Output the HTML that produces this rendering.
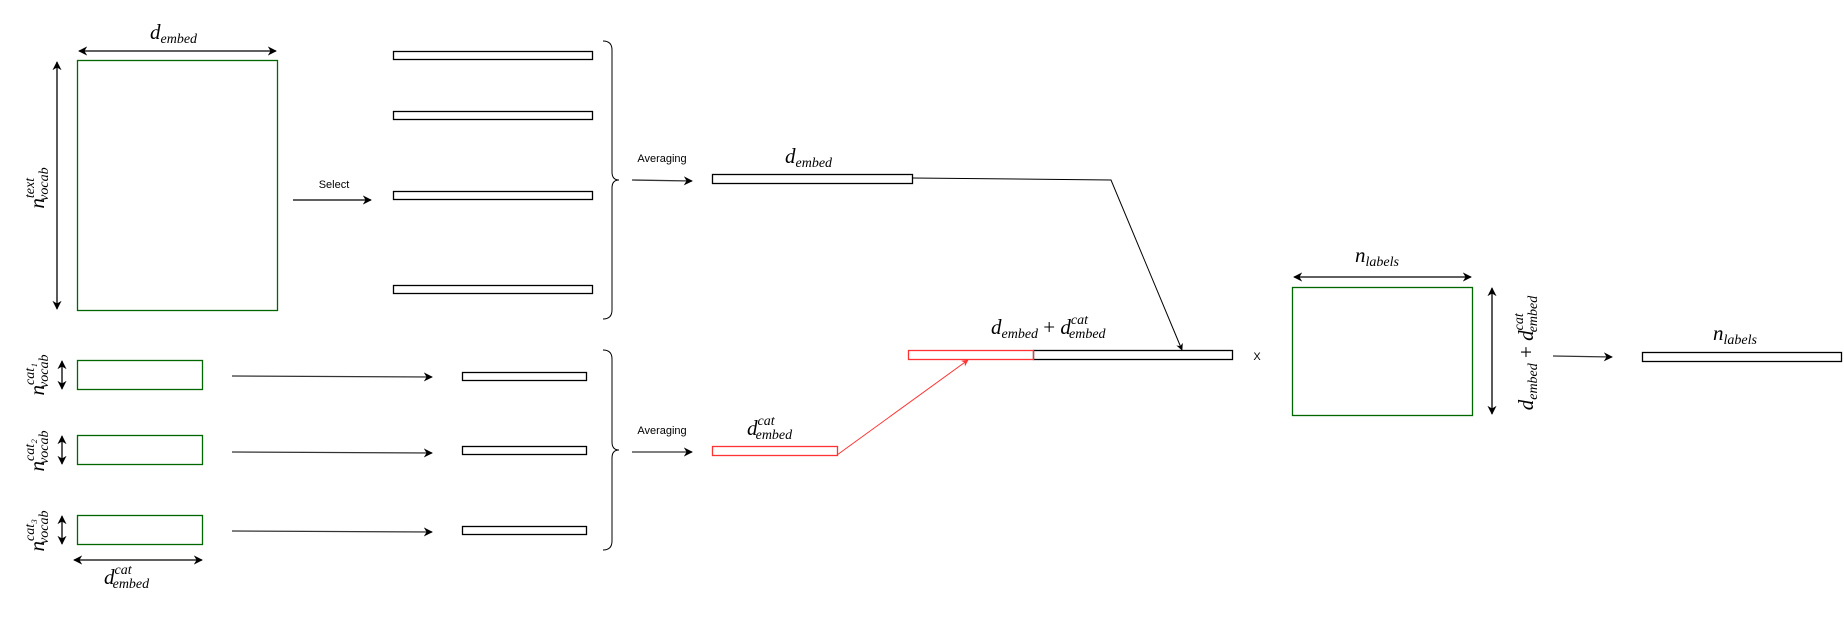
<!DOCTYPE html>
<html><head><meta charset="utf-8"><style>
html,body{margin:0;padding:0;background:#fff;}
svg{display:block;}
.m{font-family:"Liberation Serif",serif;font-style:italic;fill:#000;}
.s{font-family:"Liberation Sans",sans-serif;font-size:11px;fill:#000;}
</style></head><body>
<svg width="1844" height="641" viewBox="0 0 1844 641" xmlns="http://www.w3.org/2000/svg">
<defs>
<marker id="a" viewBox="0 0 10 10" refX="9" refY="5" markerWidth="7" markerHeight="7" orient="auto-start-reverse"><path d="M0,0 L10,5 L0,10 L3,5 z" fill="#000"/></marker>
<marker id="r" viewBox="0 0 10 10" refX="9" refY="5" markerWidth="7" markerHeight="7" orient="auto"><path d="M0,0 L10,5 L0,10 L3,5 z" fill="#f33"/></marker>
</defs>
<g fill="none" stroke-width="1.3">
<rect x="77.5" y="60.5" width="200" height="250" stroke="#060"/>
<line x1="79" y1="51" x2="276" y2="51" stroke="#000" marker-start="url(#a)" marker-end="url(#a)"/>
<line x1="57" y1="62" x2="57" y2="309" stroke="#000" marker-start="url(#a)" marker-end="url(#a)"/>
<rect x="393.5" y="51.5" width="199" height="8" stroke="#000"/>
<rect x="393.5" y="111.5" width="199" height="8" stroke="#000"/>
<rect x="393.5" y="191.5" width="199" height="8" stroke="#000"/>
<rect x="393.5" y="285.5" width="199" height="8" stroke="#000"/>
<line x1="293" y1="200" x2="371" y2="200" stroke="#000" marker-end="url(#a)"/>
<path d="M603,41 Q612,41 612,50 L612,172 Q612,180 619,180 Q612,180 612,188 L612,310 Q612,319 603,319" stroke="#000" stroke-width="1"/>
<line x1="632" y1="180" x2="692" y2="181" stroke="#333" marker-end="url(#a)"/>
<rect x="712.5" y="174.5" width="200" height="9" stroke="#000"/>
<polyline points="912,178 1111,180 1182,350" stroke="#000" stroke-width="1" marker-end="url(#a)"/>
<rect x="1033.5" y="350.5" width="199" height="9" stroke="#000"/>
<rect x="908.5" y="350.5" width="125" height="9" stroke="#f33"/>
<line x1="837" y1="455" x2="968" y2="360" stroke="#f33" stroke-width="1" marker-end="url(#r)"/>
<rect x="1292.5" y="287.5" width="180" height="128" stroke="#060"/>
<line x1="1294" y1="277" x2="1471" y2="277" stroke="#000" marker-start="url(#a)" marker-end="url(#a)"/>
<line x1="1492" y1="288" x2="1492" y2="414" stroke="#000" marker-start="url(#a)" marker-end="url(#a)"/>
<line x1="1553" y1="356" x2="1612" y2="357" stroke="#333" marker-end="url(#a)"/>
<rect x="1642.5" y="352.5" width="199" height="9" stroke="#000"/>
<rect x="77.5" y="360.5" width="125" height="29" stroke="#060"/>
<rect x="77.5" y="435.5" width="125" height="29" stroke="#060"/>
<rect x="77.5" y="515.5" width="125" height="29" stroke="#060"/>
<line x1="62" y1="361" x2="62" y2="389" stroke="#000" marker-start="url(#a)" marker-end="url(#a)"/>
<line x1="62" y1="436" x2="62" y2="464" stroke="#000" marker-start="url(#a)" marker-end="url(#a)"/>
<line x1="62" y1="516" x2="62" y2="544" stroke="#000" marker-start="url(#a)" marker-end="url(#a)"/>
<line x1="74" y1="560" x2="202" y2="560" stroke="#000" marker-start="url(#a)" marker-end="url(#a)"/>
<line x1="232" y1="376" x2="432" y2="377" stroke="#333" marker-end="url(#a)"/>
<line x1="232" y1="452" x2="432" y2="453" stroke="#333" marker-end="url(#a)"/>
<line x1="232" y1="531" x2="432" y2="532" stroke="#333" marker-end="url(#a)"/>
<rect x="462.5" y="372.5" width="124" height="8" stroke="#000"/>
<rect x="462.5" y="446.5" width="124" height="8" stroke="#000"/>
<rect x="462.5" y="526.5" width="124" height="8" stroke="#000"/>
<path d="M603,350 Q612,350 612,359 L612,442 Q612,450 619,450 Q612,450 612,458 L612,541 Q612,550 603,550" stroke="#000" stroke-width="1"/>
<line x1="632" y1="452" x2="692" y2="452" stroke="#333" marker-end="url(#a)"/>
<rect x="712.5" y="446.5" width="125" height="9" stroke="#f33"/>
</g>
<text class="m" x="150" y="39" font-size="21">d<tspan font-size="14" dy="4">embed</tspan></text>
<text class="m" transform="translate(44,188) rotate(-90)" text-anchor="middle" font-size="21">n<tspan font-size="14" dy="-10">text</tspan><tspan font-size="14" dx="-23" dy="14">vocab</tspan></text>
<text class="s" x="334" y="188" text-anchor="middle">Select</text>
<text class="s" x="662" y="162" text-anchor="middle">Averaging</text>
<text class="s" x="662" y="434" text-anchor="middle">Averaging</text>
<text class="m" x="785" y="163" font-size="21">d<tspan font-size="14" dy="4">embed</tspan></text>
<text class="m" x="747" y="435" font-size="21">d<tspan font-size="14" dy="-10">cat</tspan><tspan font-size="14" dx="-19" dy="14">embed</tspan></text>
<text class="m" x="991" y="334" font-size="21">d<tspan font-size="14" dy="4">embed</tspan><tspan font-style="normal" font-size="21" dy="-4"> + </tspan>d<tspan font-size="14" dy="-10">cat</tspan><tspan font-size="14" dx="-19" dy="14">embed</tspan></text>
<text class="s" x="1257" y="360" text-anchor="middle" font-size="12">X</text>
<text class="m" x="1355" y="262" font-size="21">n<tspan font-size="14" dy="4">labels</tspan></text>
<text class="m" x="1713" y="340" font-size="21">n<tspan font-size="14" dy="4">labels</tspan></text>
<text class="m" transform="translate(1533,353) rotate(-90)" text-anchor="middle" font-size="21">d<tspan font-size="14" dy="4">embed</tspan><tspan font-style="normal" font-size="21" dy="-4"> + </tspan>d<tspan font-size="14" dy="-10">cat</tspan><tspan font-size="14" dx="-19" dy="14">embed</tspan></text>
<text class="m" transform="translate(44,375) rotate(-90)" text-anchor="middle" font-size="21">n<tspan font-size="14" dy="-10">cat₁</tspan><tspan font-size="14" dx="-25" dy="14">vocab</tspan></text>
<text class="m" transform="translate(44,451) rotate(-90)" text-anchor="middle" font-size="21">n<tspan font-size="14" dy="-10">cat₂</tspan><tspan font-size="14" dx="-25" dy="14">vocab</tspan></text>
<text class="m" transform="translate(44,531) rotate(-90)" text-anchor="middle" font-size="21">n<tspan font-size="14" dy="-10">cat₃</tspan><tspan font-size="14" dx="-25" dy="14">vocab</tspan></text>
<text class="m" x="104" y="584" font-size="21">d<tspan font-size="14" dy="-10">cat</tspan><tspan font-size="14" dx="-19" dy="14">embed</tspan></text>
</svg>
</body></html>
